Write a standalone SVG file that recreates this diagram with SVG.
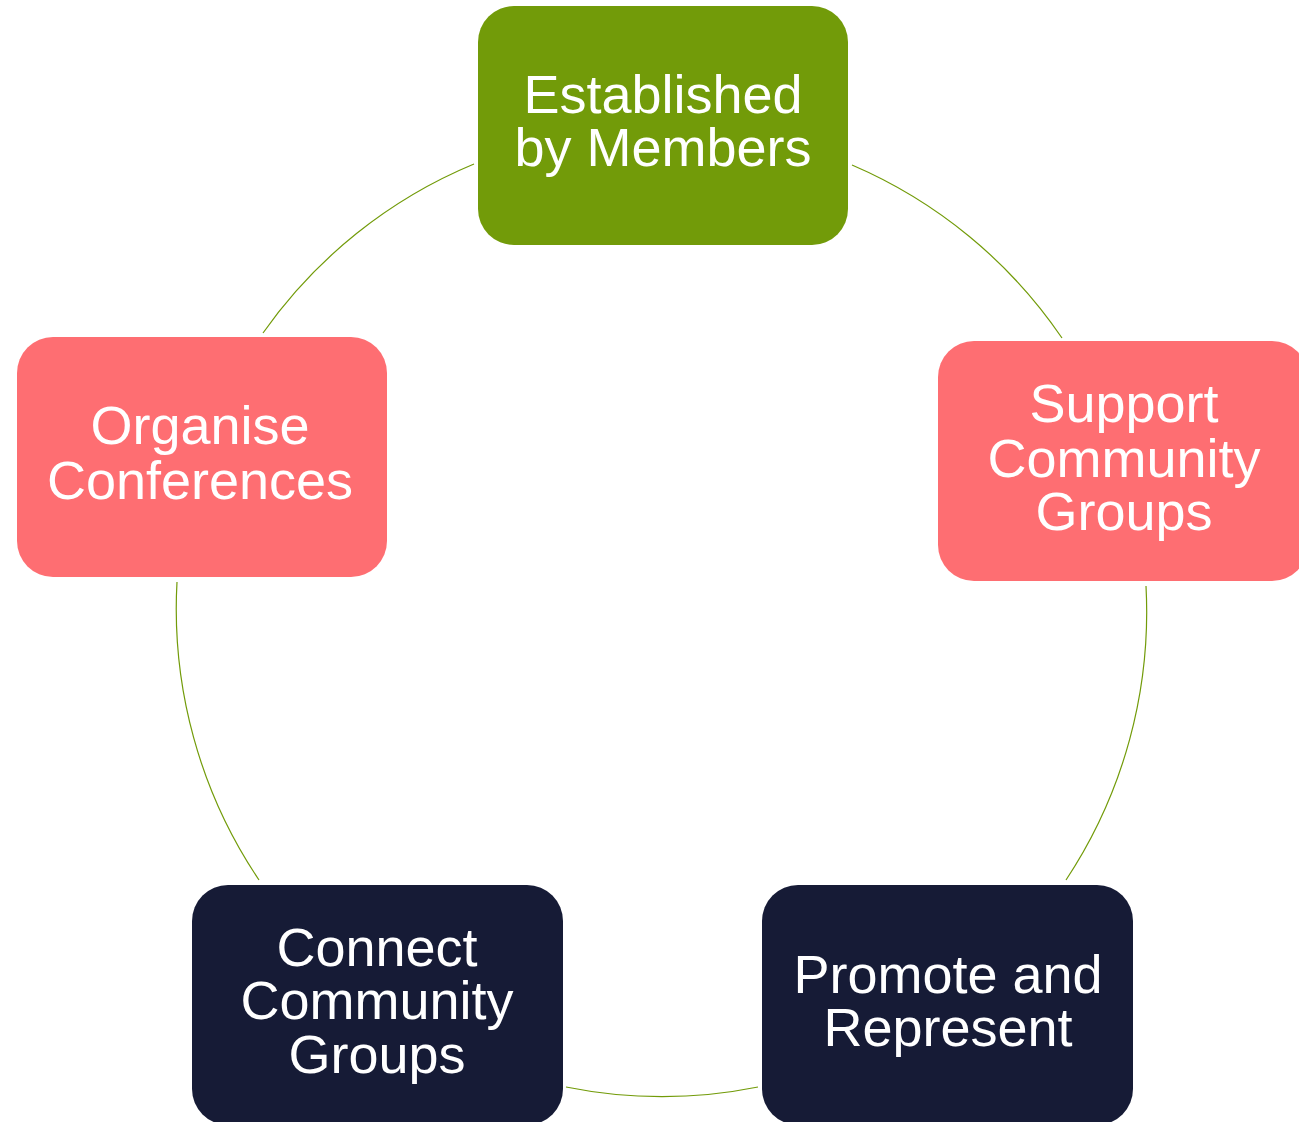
<svg xmlns="http://www.w3.org/2000/svg" width="1299" height="1122" viewBox="0 0 1299 1122">
<style>
.box{stroke:none}
.green{fill:#729b09}
.pink{fill:#fe6e72}
.navy{fill:#161b36}
.lbl{font-family:"Liberation Sans",Arial,sans-serif;font-size:54px;fill:#ffffff;text-anchor:middle}
.arc{fill:none;stroke:#729b09;stroke-width:1.2}
</style>
<rect width="1299" height="1122" fill="#ffffff"/>
<g id="connectors">
<path class="arc" d="M263,333 A485.5,485.5 0 0 1 474,164"/>
<path class="arc" d="M852,165 A485.5,485.5 0 0 1 1062,338"/>
<path class="arc" d="M1146,586 A485.5,485.5 0 0 1 1066,880"/>
<path class="arc" d="M758,1087 A485.5,485.5 0 0 1 566,1087"/>
<path class="arc" d="M259,880 A485.5,485.5 0 0 1 177,582"/>
</g>
<g id="node-established">
<rect class="box green" x="478" y="6" width="370" height="239" rx="36"/>
<text class="lbl" x="663" y="113">Established</text>
<text class="lbl" x="663" y="166">by Members</text>
</g>
<g id="node-support">
<rect class="box pink" x="938" y="341" width="370" height="240" rx="36"/>
<text class="lbl" x="1124" y="422">Support</text>
<text class="lbl" x="1124" y="477">Community</text>
<text class="lbl" x="1124" y="530">Groups</text>
</g>
<g id="node-promote">
<rect class="box navy" x="762" y="885" width="371" height="240" rx="36"/>
<text class="lbl" x="948" y="993">Promote and</text>
<text class="lbl" x="948" y="1046">Represent</text>
</g>
<g id="node-connect">
<rect class="box navy" x="192" y="885" width="371" height="240" rx="36"/>
<text class="lbl" x="377" y="966">Connect</text>
<text class="lbl" x="377" y="1019">Community</text>
<text class="lbl" x="377" y="1073">Groups</text>
</g>
<g id="node-organise">
<rect class="box pink" x="17" y="337" width="370" height="240" rx="36"/>
<text class="lbl" x="200" y="444">Organise</text>
<text class="lbl" x="200" y="499">Conferences</text>
</g>
</svg>
